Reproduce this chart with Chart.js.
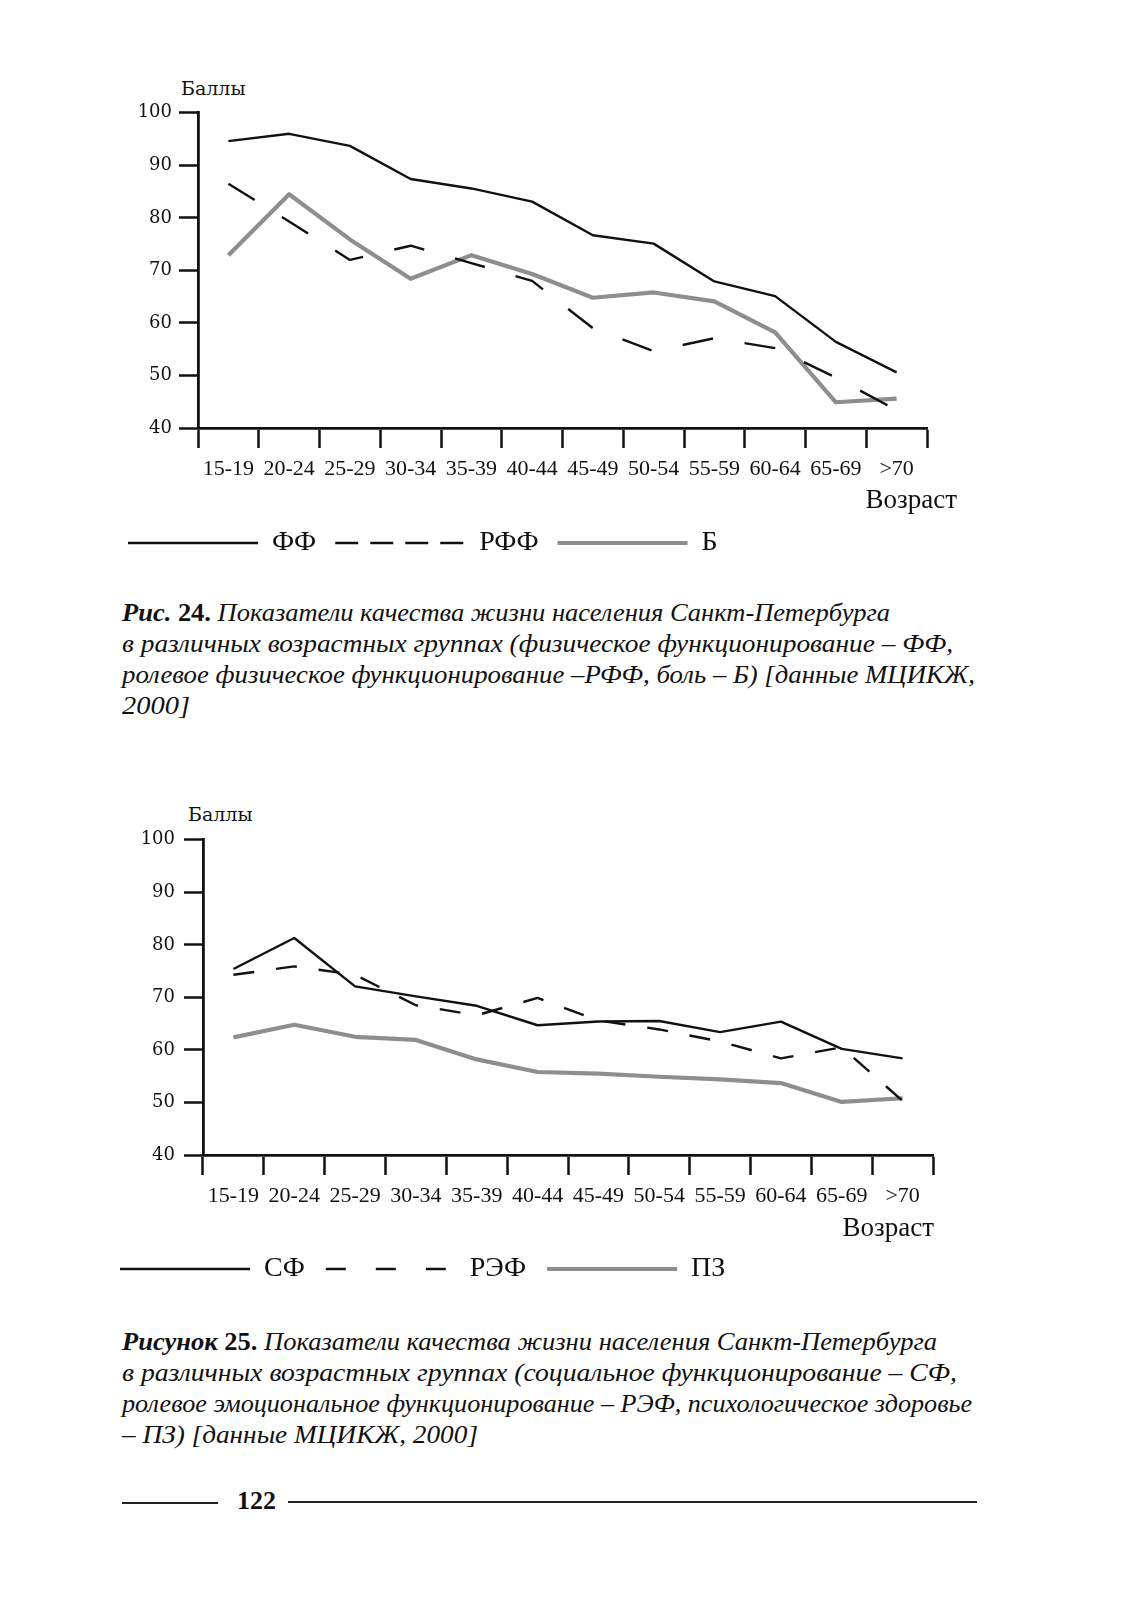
<!DOCTYPE html>
<html lang="ru">
<head>
<meta charset="utf-8">
<script src="https://cdn.jsdelivr.net/npm/chart.js@4.4.1/dist/chart.umd.min.js"></script>
<style>
  html, body { margin: 0; padding: 0; background: #fff; }
  #page { position: relative; width: 1128px; height: 1601px; background: #fff; overflow: hidden; }
  .box { position: absolute; }
  .box canvas { display: block; }
  .lbl { position: absolute; color: #111; white-space: nowrap; }
  .ball { font-family: "DejaVu Serif", serif; font-size: 19px; line-height: 19px; }
  .age { font-family: "Liberation Serif", serif; font-size: 27px; line-height: 27px; }
  .caption { position: absolute; left: 122px; font-family: "Liberation Serif", "DejaVu Serif", serif; font-style: italic;
             font-size: 26px; line-height: 31px; color: #111; }
  .caption div { white-space: nowrap; display: inline-block; transform-origin: left center; }
  .caption b span { font-style: normal; }
  .rule { position: absolute; height: 2px; background: #222; }
  .pageno { position: absolute; left: 237px; top: 1486px; font-family: "Liberation Serif", serif;
            font-weight: bold; font-size: 26px; line-height: 30px; color: #111; }
</style>
</head>
<body>
<div id="page">
  <div class="lbl ball" style="left:181px; top:79px;">Баллы</div>
  <div class="box" style="left:109px; top:95px;"><canvas id="chartTop" width="880" height="472"></canvas></div>
  <div class="lbl age" style="right:171px; top:486px;">Возраст</div>

  <div class="caption" style="top:597px;">
    <div data-w="768"><b>Рис. <span>24.</span></b> Показатели качества жизни населения Санкт-Петербурга</div><br>
    <div data-w="831">в различных возрастных группах (физическое функционирование – ФФ,</div><br>
    <div data-w="853">ролевое физическое функционирование –РФФ, боль – Б) [данные МЦИКЖ,</div><br>
    <div data-w="68">2000]</div>
  </div>

  <div class="lbl ball" style="left:188px; top:805px;">Баллы</div>
  <div class="box" style="left:99px; top:820px;"><canvas id="chartBottom" width="880" height="473"></canvas></div>
  <div class="lbl age" style="right:194px; top:1214px;">Возраст</div>

  <div class="caption" style="top:1326px;">
    <div data-w="815"><b>Рисунок <span>25.</span></b> Показатели качества жизни населения Санкт-Петербурга</div><br>
    <div data-w="835">в различных возрастных группах (социальное функционирование – СФ,</div><br>
    <div data-w="850">ролевое эмоциональное функционирование – РЭФ, психологическое здоровье</div><br>
    <div data-w="356">– ПЗ) [данные МЦИКЖ, 2000]</div>
  </div>

  <div class="rule" style="left:122px; top:1502px; width:96px;"></div>
  <div class="pageno">122</div>
  <div class="rule" style="left:288px; top:1501px; width:689px;"></div>
</div>

<script>
// DATA
const ageGroups = ["15-19", "20-24", "25-29", "30-34", "35-39", "40-44", "45-49", "50-54", "55-59", "60-64", "65-69", ">70"];
const yTicks = [40, 50, 60, 70, 80, 90, 100];

// fig. 24
const ffValues = [94.6, 96.0, 93.7, 87.4, 85.6, 83.1, 76.7, 75.1, 67.9, 65.1, 56.4, 50.6];
const rffValues = [86.5, 79.3, 72.0, 74.7, 71.4, 68.0, 59.0, 54.6, 57.1, 55.2, 49.6, 43.4];
const bValues = [72.9, 84.5, 75.9, 68.4, 72.9, 69.3, 64.8, 65.8, 64.1, 58.2, 44.9, 45.6];

// fig. 25
const sfValues = [75.4, 81.3, 72.1, 70.2, 68.4, 64.7, 65.4, 65.5, 63.4, 65.4, 60.2, 58.4];
const refValues = [74.3, 75.9, 74.3, 68.5, 66.6, 69.9, 65.6, 63.9, 61.6, 58.4, 60.5, 50.3];
const pzValues = [62.4, 64.8, 62.5, 61.9, 58.2, 55.8, 55.5, 54.9, 54.4, 53.7, 50.1, 50.8];

const INK = "#111";
const GREY = "#8e8e8e";

function legendLabels(dashes) {
  return function (chart) {
    const items = Chart.defaults.plugins.legend.labels.generateLabels(chart);
    items.forEach((item, i) => {
      item.lineDash = dashes[i];
      item.pointStyle = "line";
    });
    return items;
  };
}

function makeChart(id, sets, o) {
  const data = {
    labels: ageGroups,
    datasets: [
      { label: sets[0].label, data: sets[0].values, borderColor: INK, borderWidth: 2.4 },
      { label: sets[1].label, data: sets[1].values, borderColor: INK, borderWidth: 2.4, borderDash: o.dash },
      { label: sets[2].label, data: sets[2].values, borderColor: GREY, borderWidth: 4.2 },
    ],
  };

  const config = {
    type: "line",
    data: data,
    options: {
      responsive: false,
      animation: false,
      devicePixelRatio: 1,
      elements: { point: { radius: 0 }, line: { tension: 0, borderJoinStyle: "round" } },
      layout: { padding: { top: 13, right: o.padRight, left: 0, bottom: 0 } },
      scales: {
        x: {
          offset: true,
          grid: { display: true, offset: true, drawOnChartArea: false, drawTicks: true,
                  tickLength: 20, tickWidth: 2.5, tickColor: INK, color: INK },
          border: { display: true, color: INK, width: 2.8 },
          ticks: { color: INK, padding: 8, maxRotation: 0, autoSkip: false,
                   font: { family: "Liberation Serif", size: 22 } },
          afterFit: (s) => { s.height = o.xHeight; },
        },
        y: {
          min: 40,
          max: 100,
          afterBuildTicks: (s) => { s.ticks = yTicks.map((v) => ({ value: v })); },
          grid: { display: true, drawOnChartArea: false, drawTicks: true,
                  tickLength: 19, tickWidth: 2.5, tickColor: INK, color: INK },
          border: { display: true, color: INK, width: 2.8 },
          ticks: { color: INK, padding: o.yPad, font: { family: "DejaVu Serif", size: 18 } },
          afterFit: (s) => { s.width = o.yWidth; },
        },
      },
      plugins: {
        tooltip: { enabled: false },
        legend: {
          position: "bottom",
          align: "start",
          labels: {
            color: INK,
            font: { family: "Liberation Serif", size: 28 },
            usePointStyle: true,
            pointStyle: "line",
            pointStyleWidth: o.legendLine,
            padding: o.legendPad,
            generateLabels: legendLabels(o.legendDash),
          },
        },
      },
    },
  };

  return new Chart(document.getElementById(id), config);
}

// RENDERING THE GRAPHS
makeChart("chartTop",
  [{ label: "ФФ", values: ffValues }, { label: "РФФ", values: rffValues }, { label: "Б", values: bValues }],
  { dash: [31, 32], legendDash: [[], [23, 12], []], legendLine: 130, legendPad: 19,
    padRight: 62, yWidth: 89, yPad: 7, xHeight: 82 });

makeChart("chartBottom",
  [{ label: "СФ", values: sfValues }, { label: "РЭФ", values: refValues }, { label: "ПЗ", values: pzValues }],
  { dash: [21, 22], legendDash: [[], [20, 30], []], legendLine: 130, legendPad: 21,
    padRight: 46, yWidth: 104, yPad: 9, xHeight: 79 });

// caption lines are stretched to the width they have on the printed page
document.querySelectorAll(".caption [data-w]").forEach((el) => {
  const w = el.getBoundingClientRect().width;
  el.style.transform = "scaleX(" + (el.dataset.w / w) + ")";
});
</script>
</body>
</html>
